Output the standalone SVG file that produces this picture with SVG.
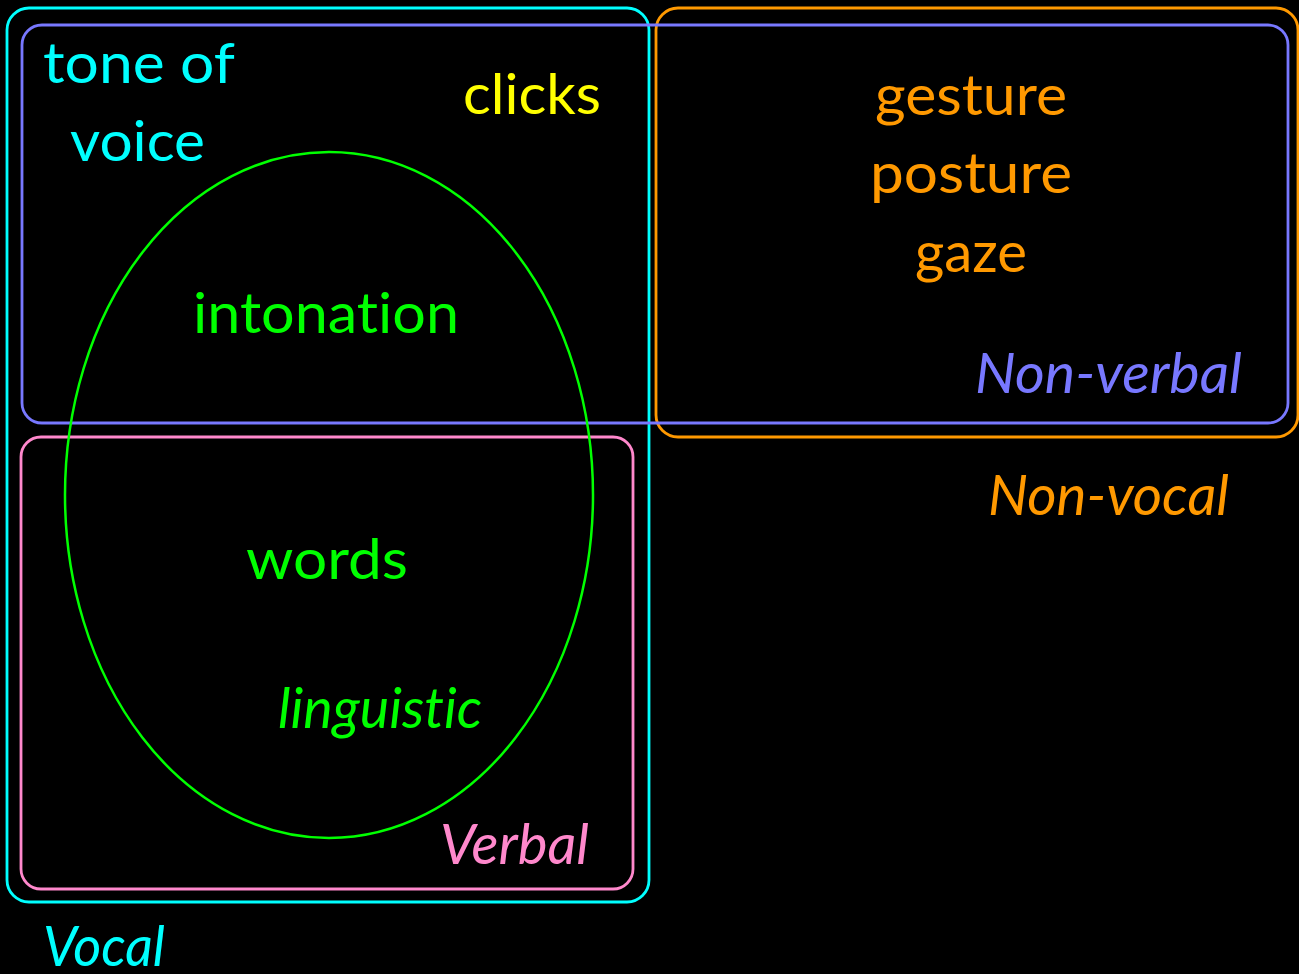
<svg xmlns="http://www.w3.org/2000/svg" width="1299" height="974" viewBox="0 0 1299 974">
<style>
.box{fill:none;stroke-width:2.8}
text{font-family:Lato,"Open Sans","Liberation Sans",sans-serif;font-size:56px;font-variant-ligatures:none;font-feature-settings:"liga" 0}
.it{font-style:italic}
.cy{fill:#00ffff}.bl{fill:#7878ff}.or{fill:#ff9900}.pk{fill:#ff88cc}.gr{fill:#00ff00}.ye{fill:#ffff00}
</style>
<rect width="1299" height="974" fill="#000"/>
<g id="vocal">
<rect class="box" x="7" y="8" width="642" height="894" rx="22" stroke="#00ffff"/>
<text class="it cy" x="43" y="966" textLength="122" lengthAdjust="spacingAndGlyphs">Vocal</text>
</g>
<g id="non-vocal">
<rect class="box" x="656" y="8" width="642" height="429" rx="22" stroke="#ff9900"/>
<text class="it or" x="988" y="515" textLength="241" lengthAdjust="spacingAndGlyphs">Non-vocal</text>
</g>
<g id="non-verbal">
<rect class="box" x="22" y="25" width="1266" height="398" rx="20" stroke="#7878ff"/>
<text class="it bl" x="975" y="393" textLength="267" lengthAdjust="spacingAndGlyphs">Non-verbal</text>
</g>
<g id="verbal">
<rect class="box" x="21" y="437" width="612" height="452" rx="20" stroke="#ff88cc"/>
<text class="it pk" x="440" y="864" textLength="149" lengthAdjust="spacingAndGlyphs">Verbal</text>
</g>
<g id="linguistic">
<ellipse cx="329" cy="495" rx="264" ry="343" fill="none" stroke="#00ff00" stroke-width="2.5"/>
<text class="it gr" x="278" y="728" textLength="204" lengthAdjust="spacingAndGlyphs">linguistic</text>
</g>
<g id="items">
<text class="cy" x="43" y="83" textLength="192" lengthAdjust="spacingAndGlyphs">tone of</text>
<text class="cy" x="70" y="161" textLength="135" lengthAdjust="spacingAndGlyphs">voice</text>
<text class="ye" x="463" y="114" textLength="138" lengthAdjust="spacingAndGlyphs">clicks</text>
<text class="gr" x="193" y="333" textLength="266" lengthAdjust="spacingAndGlyphs">intonation</text>
<text class="gr" x="246" y="579" textLength="162" lengthAdjust="spacingAndGlyphs">words</text>
<text class="or" x="875" y="115" textLength="192" lengthAdjust="spacingAndGlyphs">gesture</text>
<text class="or" x="870" y="193" textLength="202" lengthAdjust="spacingAndGlyphs">posture</text>
<text class="or" x="915" y="272" textLength="112" lengthAdjust="spacingAndGlyphs">gaze</text>
</g>
<g id="connectors"></g>
</svg>
